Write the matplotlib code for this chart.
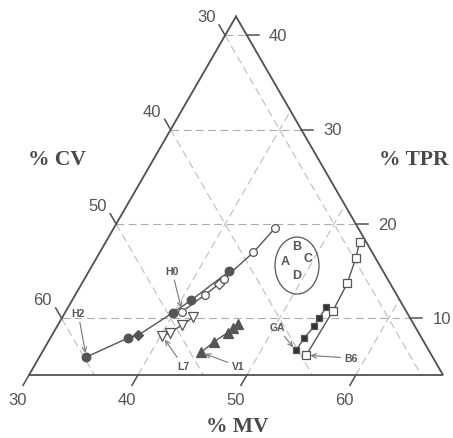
import numpy as np
import matplotlib
matplotlib.use('Agg')
import matplotlib.pyplot as plt
from matplotlib.patches import Ellipse

# ---- ternary window: MV >= 30, TPR >= 4, CV >= 28, span 38 ----
MV0, TPR0, SPAN = 30.0, 4.0, 38.0
CV0 = 100.0 - MV0 - TPR0 - SPAN

# ---- data (CV, MV, TPR in %) ----
h_fill_cv  = [59.8, 55.0, 53.9, 49.5, 47.2, 42.1]
h_fill_mv  = [34.3, 37.1, 37.9, 39.9, 40.9, 42.9]
h_fill_tpr = [5.9, 7.9, 8.2, 10.6, 11.9, 15.0]
h_fill_mk  = ['o', 'o', 'D', 'o', 'o', 'o']

h_open_cv  = [48.6, 45.6, 43.8, 43.0, 38.9, 35.6]
h_open_mv  = [40.7, 41.9, 42.6, 42.8, 44.1, 44.8]
h_open_tpr = [10.7, 12.5, 13.6, 14.2, 17.0, 19.6]
h_open_mk  = ['o', 'o', 'D', 'o', 'o', 'o']

l7_cv  = [51.7, 50.8, 49.3, 47.9]
l7_mv  = [40.2, 40.7, 41.4, 42.0]
l7_tpr = [8.1, 8.5, 9.3, 10.1]

v1_cv  = [49.0, 47.3, 45.5, 44.8, 44.1]
v1_mv  = [44.6, 45.2, 46.0, 46.2, 46.5]
v1_tpr = [6.4, 7.5, 8.5, 9.0, 9.4]

ga_cv  = [40.2, 38.8, 37.2, 36.4, 35.1]
ga_mv  = [53.2, 53.3, 53.6, 53.6, 53.7]
ga_tpr = [6.6, 7.9, 9.2, 10.0, 11.2]

b6_cv  = [39.5, 34.7, 31.9, 29.8, 28.6]
b6_mv  = [54.4, 54.5, 54.3, 53.8, 53.3]
b6_tpr = [6.1, 10.8, 13.7, 16.4, 18.1]

# ellipse (centre in ternary %) with the letters inside
ell_cv, ell_mv, ell_tpr = 35.6, 48.8, 15.6
ell_letters = ['B', 'A', 'C', 'D']

# tick values
mv_ticks  = [30, 40, 50, 60]
cv_ticks  = [30, 40, 50, 60]
tpr_ticks = [10, 20, 30, 40]
mv_grid   = [40, 50, 60]
cv_grid   = [30, 40, 50, 60]
tpr_grid  = [10, 20, 30, 40]

# ---- helpers ----
S3 = np.sqrt(3) / 2
def tern(cv, mv, tpr):
    cv, mv, tpr = (np.asarray(a, float) for a in (cv, mv, tpr))
    s = cv + mv + tpr
    mv = mv * 100 / s
    tpr = tpr * 100 / s
    m = (mv - MV0) / SPAN
    t = (tpr - TPR0) / SPAN
    return m + t / 2, t * S3

PX = 1 / 414.0
fig = plt.figure(figsize=(4.53, 4.39), dpi=100)
ax = fig.add_axes([0, 0, 1, 1])
ax.set_xlim(-29 * PX, 424 * PX)
ax.set_ylim(-63 * PX, 376 * PX)
ax.axis('off')

EDGE = '#505050'
GRID = '#bdbdbd'
GRIDH = '#aaaabf'
TXT = '#555555'
DATA = '#555555'

# grid lines
dash = (0, (7, 4))
for v in tpr_grid:
    x, y = tern([100 - MV0 - v, CV0], [MV0, 100 - CV0 - v], [v, v])
    ax.plot(x, y, color=GRIDH, lw=0.8, ls=dash, zorder=1)
for v in cv_grid:
    x, y = tern([v, v], [MV0, 100 - TPR0 - v], [100 - MV0 - v, TPR0])
    ax.plot(x, y, color=GRID, lw=0.8, ls=dash, zorder=1)
for v in mv_grid:
    x, y = tern([100 - TPR0 - v, CV0], [v, v], [TPR0, 100 - CV0 - v])
    ax.plot(x, y, color=GRID, lw=0.8, ls=dash, zorder=1)

# triangle
vx, vy = tern([CV0, 100 - MV0 - TPR0, CV0, CV0],
              [MV0, MV0, 100 - CV0 - TPR0, MV0],
              [100 - CV0 - MV0, TPR0, TPR0, 100 - CV0 - MV0])
ax.plot(vx, vy, color=EDGE, lw=1.3, zorder=2, solid_joinstyle='miter')

TL = 12 * PX
tfs = 12
# bottom ticks (MV)
for v in mv_ticks:
    x, y = tern(100 - TPR0 - v, v, TPR0)
    ex, ey = x - 0.5 * TL, y - S3 * TL
    ax.plot([x, ex], [y, ey], color=EDGE, lw=1.1, zorder=2)
    ax.annotate(str(v), (ex, ey), xytext=(-5, -14), textcoords='offset pixels',
                ha='center', va='center', fontsize=tfs, color=TXT,
                family='Liberation Sans')
# left ticks (CV)
for v in cv_ticks:
    x, y = tern(v, MV0, 100 - MV0 - v)
    ex, ey = x - 0.5 * TL, y + S3 * TL
    ax.plot([x, ex], [y, ey], color=EDGE, lw=1.1, zorder=2)
    ax.annotate(str(v), (ex, ey), xytext=(-13, 8), textcoords='offset pixels',
                ha='center', va='center', fontsize=tfs, color=TXT,
                family='Liberation Sans')
# right ticks (TPR)
for v in tpr_ticks:
    x, y = tern(CV0, 100 - CV0 - v, v)
    ex, ey = x + TL, y
    ax.plot([x, ex], [y, ey], color=EDGE, lw=1.1, zorder=2)
    ax.annotate(str(v), (ex, ey), xytext=(10, 0), textcoords='offset pixels',
                ha='left', va='center', fontsize=tfs, color=TXT,
                family='Liberation Sans')

# axis titles
tkw = dict(fontsize=15.5, fontweight='bold', color='#4a4a4a',
           family='Liberation Serif', ha='center', va='center')
fig.text(57 / 453, 1 - 160 / 439, '% CV', **tkw)
fig.text(414 / 453, 1 - 160 / 439, '% TPR', **tkw)
fig.text(237 / 453, 1 - 427 / 439, '% MV', **tkw)

# ---- series ----
def series(cv, mv, tpr, markers, face, ms):
    x, y = tern(cv, mv, tpr)
    ax.plot(x, y, color=DATA, lw=1.0, zorder=3)
    for xi, yi, mk in zip(x, y, markers):
        size = ms * (0.85 if mk == 'D' else 1.0)
        ax.plot([xi], [yi], marker=mk, ms=size, mfc=face, mec=DATA,
                mew=0.9, ls='none', zorder=4)
    return x, y

hx, hy = series(h_fill_cv, h_fill_mv, h_fill_tpr, h_fill_mk, DATA, 6.2)
h0x, h0y = series(h_open_cv, h_open_mv, h_open_tpr, h_open_mk, 'white', 5.6)
l7x, l7y = series(l7_cv, l7_mv, l7_tpr, ['v'] * len(l7_cv), 'white', 6.5)
v1x, v1y = series(v1_cv, v1_mv, v1_tpr, ['^'] * len(v1_cv), DATA, 6.5)
gax, gay = series(ga_cv, ga_mv, ga_tpr, ['s'] * len(ga_cv), '#333333', 5.0)
b6x, b6y = series(b6_cv, b6_mv, b6_tpr, ['s'] * len(b6_cv), 'white', 5.2)

# ellipse with letters
ex0, ey0 = tern(ell_cv, ell_mv, ell_tpr)
ax.add_patch(Ellipse((ex0, ey0), 44 * PX, 57 * PX, fill=False,
                     edgecolor=DATA, lw=0.9, zorder=3))
for letter, (dx, dy) in zip(ell_letters, [(0, 20), (-12, 5), (11, 8), (0, -9)]):
    ax.annotate(letter, (ex0, ey0), xytext=(dx, dy), textcoords='offset pixels',
                ha='center', va='center', fontsize=9, fontweight='bold',
                color=TXT, family='Liberation Sans')

# labelled arrows
akw = dict(arrowstyle='->,head_length=0.45,head_width=0.22', color='#7a7a7a',
           lw=0.8, shrinkA=1, shrinkB=3)
lkw = dict(textcoords='offset pixels', ha='center', va='center', fontsize=7.5,
           fontweight='bold', color=TXT, family='Liberation Sans')
ax.annotate('H2', (hx[0], hy[0]), xytext=(-8, 44), arrowprops=akw, **lkw)
ax.annotate('H0', (h0x[0], h0y[0]), xytext=(-10, 41), arrowprops=akw, **lkw)
ax.annotate('L7', (l7x[0], l7y[0]), xytext=(21, -30), arrowprops=akw, **lkw)
ax.annotate('V1', (v1x[0], v1y[0]), xytext=(37, -14), arrowprops=akw, **lkw)
ax.annotate('GA', (gax[0], gay[0]), xytext=(-19, 23), arrowprops=akw, **lkw)
ax.annotate('B6', (b6x[0], b6y[0]), xytext=(45, -3), arrowprops=akw, **lkw)

fig.savefig('out.png', dpi=100)
